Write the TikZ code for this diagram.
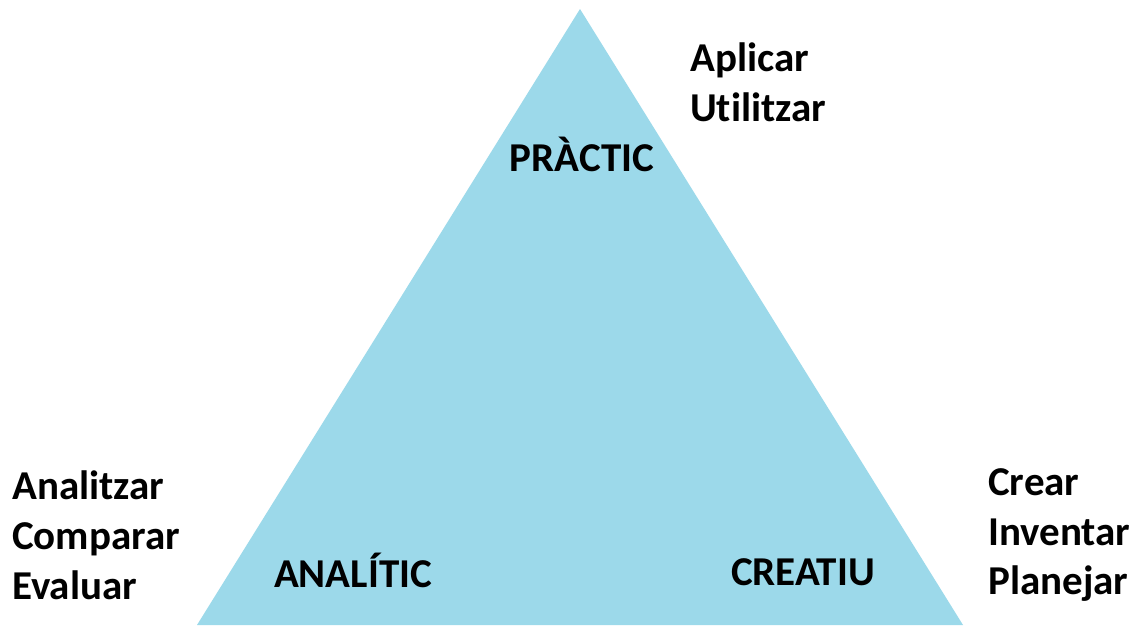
\documentclass[tikz,border=0pt]{standalone}
\usepackage{fontspec}
\setmainfont[Ligatures={NoCommon}]{Carlito}
\definecolor{tri}{RGB}{156,217,234}
\begin{document}
\begin{tikzpicture}[x=1pt,y=-1pt,
  lbl/.style={inner sep=0pt,font=\bfseries\fontsize{41}{48}\selectfont,text=black},
  lw/.style={lbl,anchor=base west}]
\useasboundingbox (0,0) rectangle (1141,625);
\fill[white] (0,0) rectangle (1141,625);
\coordinate (apex) at (580,9);
\coordinate (bl) at (197,625);
\coordinate (br) at (963,625);
\fill[tri] (apex) -- (br) -- (bl) -- cycle;
\node[lbl,anchor=base] (prac) at (582,171) {PRÀCTIC};
\node[lbl,anchor=base] (anal) at (353,587) {ANALÍTIC};
\node[lbl,anchor=base] (crea) at (803,585) {CREATIU};
\node[lw] (a1) at (690,71) {Aplicar};
\node[lw] (a2) at (690,121) {Utilitzar};
\node[lw] (b1) at (12,499) {Analitzar};
\node[lw] (b2) at (12,549) {Comparar};
\node[lw] (b3) at (12,599) {Evaluar};
\node[lw] (c1) at (988,495) {Crear};
\node[lw] (c2) at (988,545) {Inventar};
\node[lw] (c3) at (988,594) {Planejar};
\end{tikzpicture}
\end{document}
